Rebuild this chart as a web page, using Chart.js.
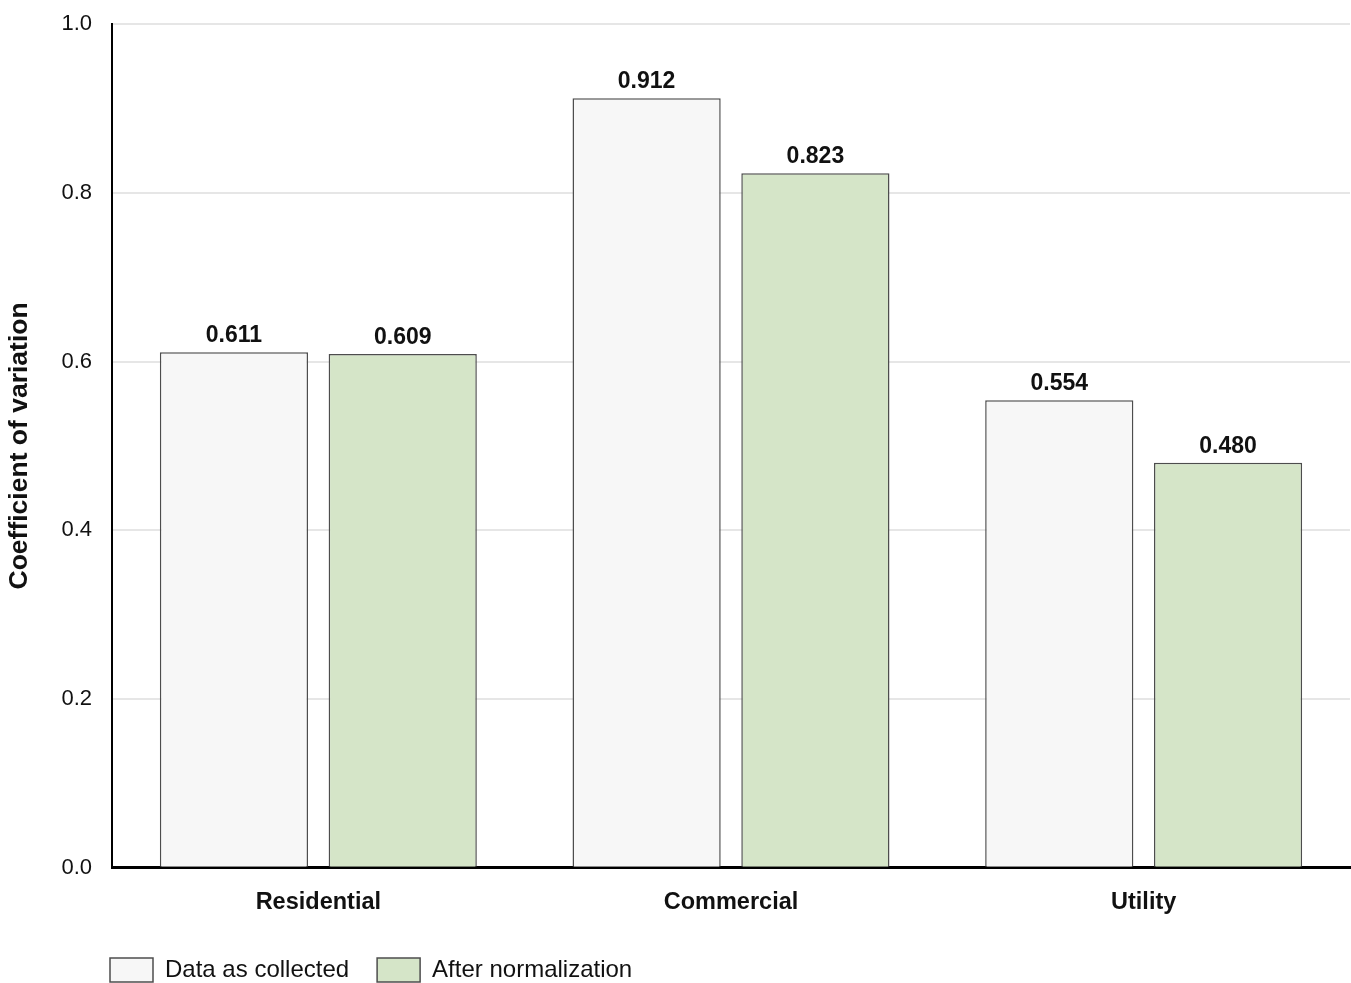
<!DOCTYPE html>
<html>
<head>
<meta charset="utf-8">
<script src="https://cdn.jsdelivr.net/npm/chart.js@4/dist/chart.umd.min.js"></script>
<style>
  html, body { margin: 0; padding: 0; background: #ffffff; }
  #wrap { width: 1351px; height: 983px; }
</style>
</head>
<body>
<div id="wrap"><canvas id="cv" width="1351" height="983"></canvas></div>
<script>
// Coefficient of variation by market segment, before and after normalization
const categories = ['Residential', 'Commercial', 'Utility'];
const seriesNames = ['Data as collected', 'After normalization'];
const collected = [0.611, 0.912, 0.554];
const normalized = [0.609, 0.823, 0.480];
const yTicks = [0.0, 0.2, 0.4, 0.6, 0.8, 1.0];

const FONT = "Helvetica, Arial, 'Liberation Sans', sans-serif";

// Prints each bar's value just above it
const valueLabels = {
  id: 'valueLabels',
  afterDatasetsDraw(chart) {
    const ctx = chart.ctx;
    ctx.save();
    ctx.font = 'bold 23px ' + FONT;
    ctx.fillStyle = '#111111';
    ctx.textAlign = 'center';
    ctx.textBaseline = 'bottom';
    chart.data.datasets.forEach((ds, i) => {
      chart.getDatasetMeta(i).data.forEach((bar, j) => {
        ctx.fillText(ds.data[j].toFixed(3), bar.x, bar.y - 5);
      });
    });
    ctx.restore();
  }
};

// Places the legend row under the plot, starting at the y axis
const legendPlacement = {
  id: 'legendPlacement',
  beforeDraw(chart) {
    const lg = chart.legend;
    if (!lg) return;
    const pad = lg.options.labels.padding;
    const w = lg.right - lg.left;
    lg.left = 110 - pad;
    lg.right = lg.left + w;
    const h = lg.bottom - lg.top;
    lg.top = 958 - pad;
    lg.bottom = lg.top + h;
  }
};

new Chart(document.getElementById('cv'), {
  type: 'bar',
  data: {
    labels: categories,
    datasets: [
      {
        label: seriesNames[0],
        data: collected,
        backgroundColor: '#f7f7f7',
        borderColor: '#4d4d4d',
        borderWidth: 1.5
      },
      {
        label: seriesNames[1],
        data: normalized,
        backgroundColor: '#d5e5c8',
        borderColor: '#4d4d4d',
        borderWidth: 1.5
      }
    ]
  },
  options: {
    responsive: false,
    animation: false,
    devicePixelRatio: 1,
    categoryPercentage: 0.818,
    barPercentage: 0.878,
    layout: { padding: { top: 24, right: 1, bottom: -17, left: 0 } },
    plugins: {
      tooltip: { enabled: false },
      legend: {
        position: 'bottom',
        align: 'start',
        labels: {
          boxWidth: 43,
          boxHeight: 24,
          padding: 28,
          color: '#111111',
          font: { family: FONT, size: 24 }
        }
      }
    },
    scales: {
      x: {
        grid: { display: false, drawTicks: false },
        border: { display: true, color: '#000000', width: 3 },
        ticks: {
          padding: 21,
          color: '#111111',
          font: { family: FONT, size: 23.5, weight: 'bold' }
        }
      },
      y: {
        min: 0,
        max: 1,
        afterBuildTicks(scale) {
          scale.ticks = yTicks.map(v => ({ value: v }));
        },
        afterFit(scale) {
          scale.width = 112;
          scale.paddingTop = 12;
          scale.paddingBottom = 12;
        },
        grid: { color: '#e6e6e6', lineWidth: 2, drawTicks: false },
        border: { display: true, color: '#000000', width: 2 },
        ticks: {
          padding: 20,
          color: '#111111',
          font: { family: FONT, size: 22 },
          callback: v => Number(v).toFixed(1)
        },
        title: {
          display: true,
          text: 'Coefficient of variation',
          color: '#111111',
          font: { family: FONT, size: 26.5, weight: 'bold' },
          padding: { top: 4, bottom: 4 }
        }
      }
    }
  },
  plugins: [valueLabels, legendPlacement]
});
</script>
</body>
</html>
